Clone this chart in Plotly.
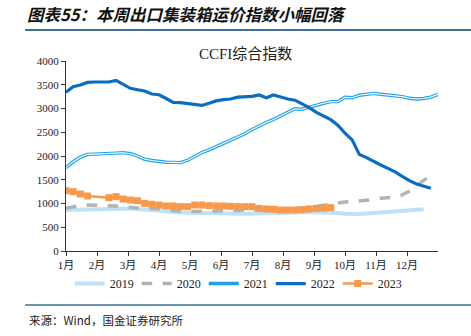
import plotly.graph_objects as go

# CCFI composite index, weekly readings by year (week 0 = first week of January)
idx_2019 = [863, 868, 872, 877, 880, 885, 890, 895, 898, 895, 885, 870, 860, 850, 835,
            820, 810, 805, 800, 795, 790, 785, 780, 780, 782, 785, 790, 795, 800, 805,
            810, 812, 814, 815, 815, 814, 814, 812, 800, 785, 779, 780, 790, 800, 810,
            825, 840, 849, 849, 860, 877]
idx_2020 = [898, 930, 960, 970, 968, 965, 960, 945, 933, 912, 905, 900, 898, 890, 870,
            850, 835, 830, 828, 828, 830, 840, 849, 850, 855, 860, 863, 865, 870, 875,
            880, 885, 890, 900, 920, 945, 965, 985, 1010, 1030, 1040, 1050, 1059, 1080,
            1110, 1125, 1135, 1180, 1260, 1380, 1480, 1590]
idx_2021 = [1754, 1880, 1972, 2035, 2040, 2042, 2045, 2060, 2070, 2049, 2000, 1930, 1905,
            1880, 1870, 1865, 1860, 1910, 1990, 2075, 2130, 2200, 2270, 2330, 2400, 2470,
            2560, 2640, 2705, 2770, 2840, 2920, 2995, 2985, 3030, 3070, 3110, 3145, 3145,
            3235, 3225, 3280, 3300, 3318, 3300, 3285, 3255, 3250, 3215, 3200, 3210, 3240,
            3298]
idx_2022 = [3341, 3459, 3495, 3550, 3558, 3558, 3558, 3593, 3500, 3425, 3395, 3368, 3305,
            3290, 3210, 3130, 3125, 3105, 3085, 3065, 3110, 3160, 3185, 3200, 3240, 3250,
            3255, 3284, 3228, 3284, 3240, 3200, 3175, 3100, 3020, 2920, 2850, 2765, 2650,
            2480, 2340, 2035, 1965, 1880, 1810, 1740, 1665, 1570, 1480, 1410, 1360, 1320]
weeks_2023 = [0, 1, 2, 3, 6, 7, 8, 9, 10, 11, 12, 13, 14, 15, 16, 17, 18, 19, 20, 21,
              22, 23, 24, 25, 26, 27, 28, 29, 30, 31, 32, 33, 34, 35, 36, 37]
idx_2023 = [1270, 1249, 1200, 1158, 1123, 1144, 1095, 1074, 1059, 1003, 983, 968, 947,
            947, 933, 933, 968, 968, 954, 947, 947, 940, 933, 933, 933, 898, 884, 877,
            863, 863, 863, 870, 884, 898, 905, 912]

month_labels = [f"{m}月" for m in range(1, 13)]
weeks_per_month = 52 / 12
month_ticks = [i * weeks_per_month for i in range(12)]
y_ticks = list(range(0, 4001, 500))

SERIF = "Liberation Serif, Noto Sans CJK SC, serif"
CJK = "Noto Sans CJK SC, sans-serif"
RULE = "#3E6F93"

fig = go.Figure()

fig.add_trace(go.Scatter(
    x=list(range(len(idx_2019))), y=idx_2019, name="2019", mode="lines",
    line=dict(color="#BDE2F6", width=4)))
fig.add_trace(go.Scatter(
    x=list(range(len(idx_2020))), y=idx_2020, name="2020", mode="lines",
    line=dict(color="#B3B3B3", width=3.5, dash="dash")))
# 2021 is a double line: coloured outline with a white core
fig.add_trace(go.Scatter(
    x=list(range(len(idx_2021))), y=idx_2021, name="2021", mode="lines",
    line=dict(color="#1EA2E6", width=3.4), legendgroup="2021"))
fig.add_trace(go.Scatter(
    x=list(range(len(idx_2021))), y=idx_2021, name="2021", mode="lines",
    line=dict(color="white", width=1.1), legendgroup="2021", showlegend=False,
    hoverinfo="skip"))
fig.add_trace(go.Scatter(
    x=list(range(len(idx_2022))), y=idx_2022, name="2022", mode="lines",
    line=dict(color="#0B6DC2", width=3.2)))
fig.add_trace(go.Scatter(
    x=weeks_2023, y=idx_2023, name="2023", mode="lines+markers",
    line=dict(color="#F7984A", width=2.5),
    marker=dict(symbol="square", size=7, color="#F7984A")))

fig.update_layout(
    width=471, height=336,
    margin=dict(l=66, r=33, t=61, b=85),
    paper_bgcolor="white", plot_bgcolor="white",
    showlegend=True,
    legend=dict(orientation="h", x=0.01, xanchor="left", y=-0.095, yanchor="top",
                font=dict(family=SERIF, size=12, color="#222"),
                entrywidth=22, entrywidthmode="pixels",
                itemwidth=30, tracegroupgap=0, bgcolor="rgba(0,0,0,0)"),
    xaxis=dict(range=[0, 52], tickmode="array", tickvals=month_ticks,
               ticktext=month_labels, showgrid=False, zeroline=False,
               showline=True, linecolor="#333", linewidth=1,
               ticks="outside", ticklen=4, tickcolor="#333",
               tickfont=dict(family=SERIF, size=11, color="#222")),
    yaxis=dict(range=[0, 4000], tickmode="array", tickvals=y_ticks,
               showgrid=False, zeroline=False,
               showline=True, linecolor="#333", linewidth=1,
               ticks="outside", ticklen=4, tickcolor="#333",
               tickfont=dict(family=SERIF, size=11, color="#222")),
    annotations=[
        dict(text="<b><i>图表55：本周出口集装箱运价指数小幅回落</i></b>",
             xref="paper", yref="paper", x=-0.11, y=1.245, xanchor="left",
             yanchor="middle", showarrow=False,
             font=dict(family=CJK, size=16.5, color="#111")),
        dict(text="CCFI综合指数", xref="paper", yref="paper", x=0.483, y=1.035,
             xanchor="center", yanchor="middle", showarrow=False,
             font=dict(family=SERIF, size=15, color="#222")),
        dict(text="来源：Wind，国金证券研究所", xref="paper", yref="paper",
             x=-0.105, y=-0.365, xanchor="left", yanchor="middle", showarrow=False,
             font=dict(family=CJK, size=11.5, color="#222")),
    ],
    shapes=[
        dict(type="line", xref="paper", yref="paper", x0=-0.110, x1=1.09,
             y0=1.163, y1=1.163, line=dict(color=RULE, width=2)),
        dict(type="line", xref="paper", yref="paper", x0=-0.110, x1=1.09,
             y0=-0.284, y1=-0.284, line=dict(color=RULE, width=1.5)),
    ],
)

fig.write_html("out.html")
